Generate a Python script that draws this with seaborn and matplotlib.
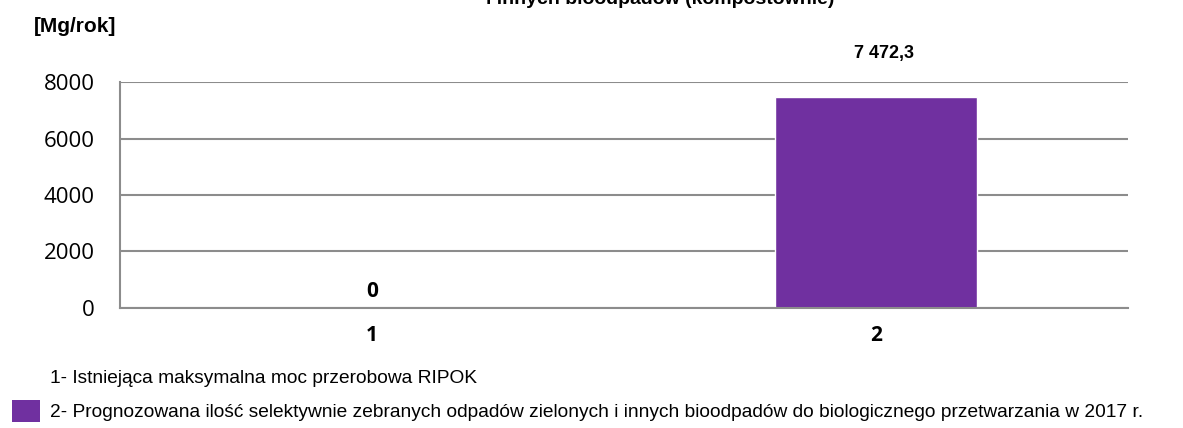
import matplotlib
matplotlib.use('Agg')
import matplotlib.pyplot as plt
from matplotlib.patches import Patch
from matplotlib.ticker import FixedLocator
import seaborn as sns
import pandas as pd

# data
categories = ['1', '2']
values = [0, 7472.3]
value_labels = ['0', '7 472,3']
legend_labels = [
    '1- Istniejąca maksymalna moc przerobowa RIPOK',
    '2- Prognozowana ilość selektywnie zebranych odpadów zielonych i innych bioodpadów do biologicznego przetwarzania w 2017 r.',
]
title = 'i innych bioodpadów (kompostownie)'
unit = '[Mg/rok]'

purple = '#7030A0'
grid_gray = '#8c8c8c'
narrow = ['Liberation Sans Narrow', 'Liberation Sans', 'DejaVu Sans']

sns.set_theme(style='white')
plt.rcParams['font.family'] = narrow
plt.rcParams['text.color'] = 'black'

df = pd.DataFrame({'cat': categories, 'val': values})

fig = plt.figure(figsize=(11.83, 4.28), dpi=100)
ax = fig.add_axes([0.1014, 0.2804, 0.8521, 0.5280])

sns.barplot(data=df, x='cat', y='val', color=purple, width=0.4,
            saturation=1, ax=ax)

ax.set_ylim(0, 8000)
ax.set_xlim(-0.5, 1.5)
ax.set_yticks([0, 2000, 4000, 6000, 8000])
ax.yaxis.grid(True, color=grid_gray, linewidth=1.5)
ax.set_axisbelow(True)
ax.set_xlabel('')
ax.set_ylabel('')

for s in ['top', 'right']:
    ax.spines[s].set_visible(False)
for s in ['left', 'bottom']:
    ax.spines[s].set_color(grid_gray)
    ax.spines[s].set_linewidth(1.5)

ax.tick_params(axis='y', length=7, width=1.5, color=grid_gray, pad=11,
               labelsize=16, labelcolor='black')
for t in ax.get_yticklabels():
    t.set_fontfamily(['Open Sans', 'DejaVu Sans'])

# category labels without ticks, tick marks between categories
ax.tick_params(axis='x', which='major', length=0, pad=12, labelcolor='black')
ax.xaxis.set_minor_locator(FixedLocator([-0.5, 0.5, 1.5]))
ax.tick_params(axis='x', which='minor', length=7, width=1.5, color=grid_gray)
for t in ax.get_xticklabels():
    t.set_fontfamily(['Open Sans', 'DejaVu Sans'])
    t.set_fontweight('bold')
    t.set_fontsize(15)

# value labels
offsets = [16, 43]
for i, (v, lab) in enumerate(zip(values, value_labels)):
    ax.annotate(lab, xy=(i, v), xytext=(0 if v == 0 else 8, offsets[i]),
                textcoords='offset pixels', ha='center', va='center',
                fontsize=15 if v == 0 else 13, fontweight='bold',
                family=['Open Sans', 'DejaVu Sans'] if v == 0 else narrow,
                annotation_clip=False)

fig.text(0.558, 1.0, title, ha='center', va='center', fontsize=14,
         fontweight='bold')
fig.text(0.029, 0.937, unit, ha='left', va='center', fontsize=15,
         fontweight='bold')

handles = [Patch(facecolor='white', edgecolor='none'),
           Patch(facecolor=purple, edgecolor='none')]
fig.legend(handles, legend_labels, loc='lower left',
           bbox_to_anchor=(0.004, -0.005), frameon=False, fontsize=13.8,
           handlelength=1.45, handleheight=1.45, handletextpad=0.5,
           labelspacing=0.6, borderaxespad=0)

fig.savefig('out.png', dpi=100)
